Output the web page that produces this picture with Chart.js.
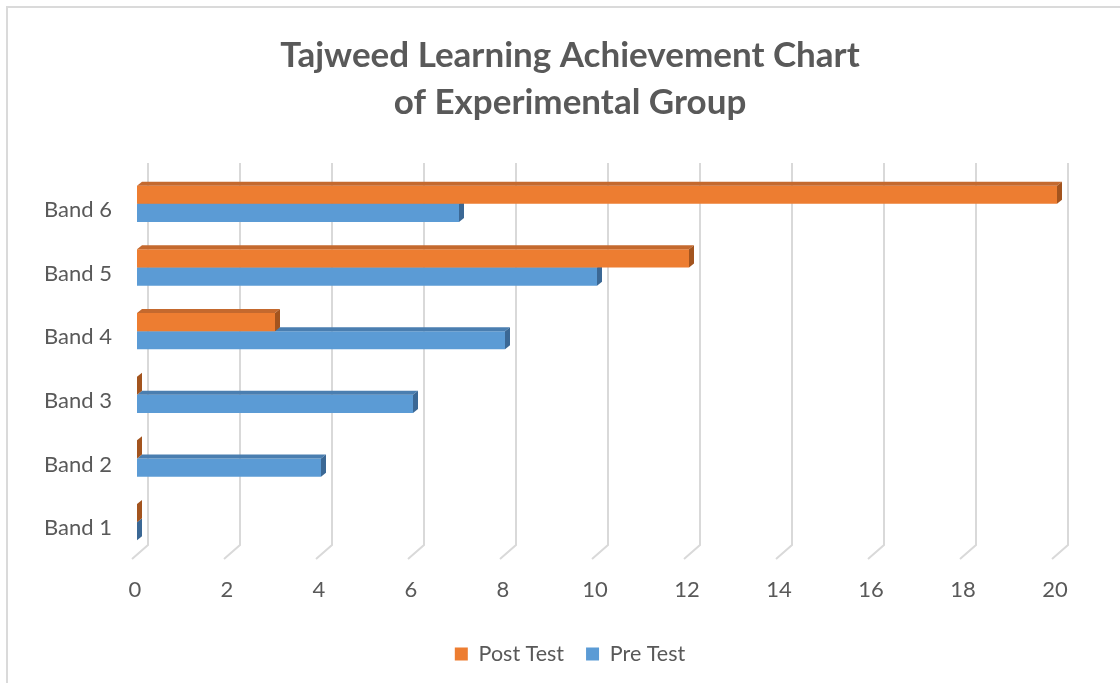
<!DOCTYPE html>
<html><head><meta charset="utf-8">
<script src="https://cdn.jsdelivr.net/npm/chart.js@4/dist/chart.umd.min.js"></script>
<style>
html,body{margin:0;padding:0;overflow:hidden;background:#fff;width:1120px;height:683px}
#frame{position:absolute;left:6px;top:6px;width:1300px;height:900px;border-left:2px solid #dadada;border-top:2px solid #dadada;box-sizing:border-box}
#c{position:absolute;left:0;top:0}
</style></head><body>
<div id="frame"></div>
<canvas id="c" width="1140" height="700" style="width:1140px;height:700px"></canvas>
<script>
// ---- data ----
const categories = ['Band 1','Band 2','Band 3','Band 4','Band 5','Band 6'];
const postTest = [0, 0, 0, 3, 12, 20];
const preTest  = [0, 4, 6, 8, 10, 7];
const xMin = 0, xMax = 20, xStep = 2;
const titleLines = ['Tajweed Learning Achievement Chart', 'of Experimental Group'];
const seriesNames = ['Post Test', 'Pre Test'];

// ---- style ----
const FAMILY = 'Lato, "Open Sans", sans-serif';
const TEXT = '#595959';
function fitSize(text, weight, target){
  const ctx = document.createElement('canvas').getContext('2d');
  ctx.font = weight + ' 100px ' + FAMILY;
  const w = ctx.measureText(text).width;
  return Math.round(100 * target / w * 2) / 2;
}
const titleSize = fitSize(titleLines[0], 'bold', 578);
const tickSize = fitSize('Band 6', 'normal', 68);
const legendSize = fitSize('Post Test', 'normal', 86);

const CANVAS_H = 700;
const AREA_TOP = 172, AREA_BOTTOM = 552;
const legendPad = 22;
const legendTop = 652 - legendPad - legendSize / 2;
const legendH = 2 * legendPad + legendSize;
const padBottom = CANVAS_H - legendTop - legendH + 10;
const xAxisH = legendTop - AREA_BOTTOM;
const tickLH = tickSize * 1.2;
const xTickPad = 588 - AREA_BOTTOM - tickLH / 2;

const DX = 5, DY = 4;

const depthPlugin = {
  id: 'depth3d',
  beforeDatasetsDraw(chart){
    const {ctx, chartArea} = chart;
    const x = chart.scales.x;
    ctx.save();
    ctx.strokeStyle = '#d9d9d9';
    ctx.lineWidth = 2;
    x.ticks.forEach(t => {
      const px = x.getPixelForValue(t.value);
      ctx.beginPath();
      ctx.moveTo(px + 11, chartArea.top - 9);
      ctx.lineTo(px + 11, chartArea.bottom - 9);
      ctx.lineTo(px - 5, chartArea.bottom + 5);
      ctx.stroke();
    });
    ctx.restore();
  },
  afterDatasetDraw(chart, args){
    const {ctx} = chart;
    const ds = chart.data.datasets[args.index];
    const meta = args.meta;
    ctx.save();
    meta.data.forEach(bar => {
      const p = bar.getProps(['x','y','base','height'], true);
      const top = p.y - p.height / 2, bot = p.y + p.height / 2;
      const x0 = Math.min(p.base, p.x), x1 = Math.max(p.base, p.x);
      ctx.fillStyle = ds.topColor;
      ctx.beginPath();
      ctx.moveTo(x0, top); ctx.lineTo(x1, top);
      ctx.lineTo(x1 + DX, top - DY); ctx.lineTo(x0 + DX, top - DY);
      ctx.closePath(); ctx.fill();
      ctx.fillStyle = ds.sideColor;
      ctx.beginPath();
      ctx.moveTo(x1, top); ctx.lineTo(x1 + DX, top - DY);
      ctx.lineTo(x1 + DX, bot - DY); ctx.lineTo(x1, bot);
      ctx.closePath(); ctx.fill();
    });
    ctx.restore();
  }
};

new Chart(document.getElementById('c'), {
  type: 'bar',
  data: {
    labels: categories,
    datasets: [
      { label: seriesNames[0], data: postTest, backgroundColor: '#ED7D31', topColor: '#C4692E', sideColor: '#A3541E',
        categoryPercentage: 0.57, barPercentage: 1.0, borderWidth: 0 },
      { label: seriesNames[1], data: preTest, backgroundColor: '#5B9BD5', topColor: '#4A7EB0', sideColor: '#3B6895',
        categoryPercentage: 0.57, barPercentage: 1.0, borderWidth: 0 }
    ]
  },
  options: {
    indexAxis: 'y',
    responsive: false,
    animation: false,
    devicePixelRatio: 1,
    layout: { padding: { left: 0, right: 0, top: 0, bottom: padBottom } },
    scales: {
      x: {
        min: xMin, max: xMax,
        ticks: { stepSize: xStep, color: TEXT, font: { family: FAMILY, size: tickSize }, padding: xTickPad, labelOffset: -2, maxRotation: 0 },
        grid: { display: false, drawTicks: false },
        border: { display: false },
        afterFit(s){ s.height = xAxisH; }
      },
      y: {
        reverse: true,
        ticks: { color: TEXT, font: { family: FAMILY, size: tickSize }, padding: 25, labelOffset: 6 },
        grid: { display: false, drawTicks: false },
        border: { display: false },
        afterFit(s){ s.width = 137; }
      },
      yRight: {
        type: 'linear', position: 'right', display: true,
        ticks: { display: false }, grid: { display: false, drawTicks: false }, border: { display: false },
        afterFit(s){ s.width = 83; }
      }
    },
    plugins: {
      title: {
        display: true, text: titleLines, color: TEXT,
        font: { family: FAMILY, weight: 'bold', size: titleSize, lineHeight: 47 / titleSize },
        padding: { top: 32, bottom: 46 }
      },
      legend: {
        position: 'bottom',
        labels: { boxWidth: 13, boxHeight: 13, color: TEXT, padding: legendPad,
          font: { family: FAMILY, size: legendSize } }
      },
      tooltip: { enabled: false }
    }
  },
  plugins: [depthPlugin]
});
</script>
</body></html>
